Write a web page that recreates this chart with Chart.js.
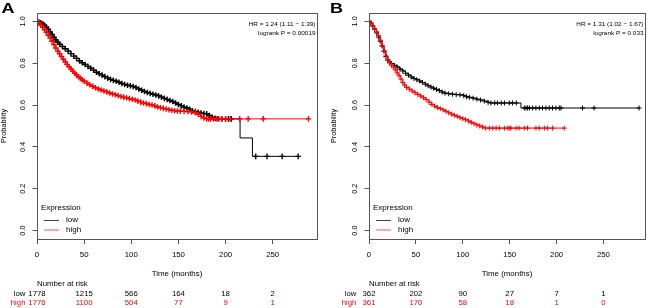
<!DOCTYPE html>
<html><head><meta charset="utf-8">
<script src="https://cdn.jsdelivr.net/npm/chart.js@4/dist/chart.umd.min.js"></script>
<style>
html,body{margin:0;padding:0;background:#fff;width:650px;height:308px;overflow:hidden}
canvas{position:absolute;top:0}
#cA{left:0}#cB{left:325px}
</style></head><body>
<canvas id="cA" width="325" height="308"></canvas>
<canvas id="cB" width="325" height="308"></canvas>
<script>
// ---- shared axis data ----
const xTicks = [0, 50, 100, 150, 200, 250];
const xTickLabels = ['0', '50', '100', '150', '200', '250'];
const yTicks = [0, 0.2, 0.4, 0.6, 0.8, 1.0];
const yTickLabels = ['0.0', '0.2', '0.4', '0.6', '0.8', '1.0'];
const groups = ['low', 'high'];

// ---- Panel A ----
const aLowT = [0,2,4,6,8,10,12,14,16,18,20,22,24,27,30,33,36,39,42,45,48,51,54,57,60,63,66,69,72,75,78,81,84,87,90,93,96,99,102,105,108,111,114,117,120,123,126,129,132,135,138,141,144,147,150,153,156,159,162,165,168,171,174,177,180,183,186,189,192,196,200,203,206];
const aLowS = [1.000,0.997,0.993,0.988,0.982,0.972,0.962,0.950,0.938,0.924,0.911,0.900,0.891,0.880,0.869,0.858,0.846,0.834,0.823,0.812,0.802,0.794,0.785,0.776,0.767,0.757,0.750,0.743,0.736,0.729,0.723,0.718,0.714,0.709,0.703,0.698,0.695,0.692,0.689,0.684,0.677,0.671,0.665,0.660,0.656,0.652,0.648,0.644,0.638,0.632,0.627,0.622,0.617,0.610,0.603,0.596,0.590,0.586,0.580,0.573,0.569,0.566,0.562,0.560,0.558,0.550,0.542,0.537,0.535,0.534,0.534,0.534,0.534];
const aLowDropT = [215.4, 228.5];
const aLowDropS = [0.443, 0.355];
const aLowCensT = [232, 244, 260, 277];
const aLowCensS = [0.355, 0.355, 0.355, 0.355];

const aHighT = [0,2,4,6,8,10,12,14,16,18,20,22,24,26,28,30,32,34,36,38,40,42,44,46,48,50,53,56,59,62,65,68,71,74,77,80,83,86,89,92,95,98,101,104,107,110,113,116,119,122,125,128,131,134,137,140,143,146,149,152,156,160,164,168,171,174,177,180];
const aHighS = [1.000,0.992,0.982,0.972,0.960,0.948,0.934,0.920,0.905,0.889,0.873,0.858,0.845,0.832,0.819,0.806,0.794,0.783,0.772,0.762,0.752,0.743,0.735,0.728,0.721,0.714,0.705,0.697,0.690,0.683,0.677,0.672,0.667,0.663,0.658,0.653,0.649,0.645,0.641,0.638,0.635,0.631,0.628,0.624,0.619,0.614,0.610,0.607,0.603,0.600,0.596,0.591,0.587,0.584,0.581,0.578,0.575,0.573,0.572,0.571,0.570,0.569,0.567,0.563,0.556,0.546,0.538,0.534];
const aHighDropT = [];
const aHighDropS = [];
const aHighCensT = [182,184,187,190,193,196,200,205,215,224,240,288];
const aHighCensS = [0.534,0.534,0.534,0.534,0.534,0.534,0.534,0.534,0.534,0.534,0.534,0.534];

const aRiskLow = [1778, 1215, 566, 164, 18, 2];
const aRiskHigh = [1776, 1100, 504, 77, 9, 1];
const aStats = ['HR = 1.24 (1.11 \u2212 1.39)', 'logrank P = 0.00019'];

// ---- Panel B ----
const bLowT = [0,2,4,6,8,10,12,14,16,18,20,22,24,27,30,33,36,39,42,45,48,51,54,57,60,63,66,69,72,75,78,81,85,89,93,97,101,104,107,111,115,119,123,127,130];
const bLowS = [1.000,0.992,0.978,0.962,0.945,0.925,0.905,0.882,0.858,0.832,0.815,0.806,0.798,0.790,0.782,0.772,0.763,0.752,0.743,0.734,0.727,0.721,0.715,0.708,0.700,0.692,0.686,0.680,0.675,0.669,0.662,0.657,0.654,0.652,0.650,0.649,0.645,0.640,0.637,0.633,0.628,0.624,0.619,0.613,0.610];
const bLowDropT = [162];
const bLowDropS = [0.586];
const bLowCensT = [134,137,141,144.5,149.6,153,157,165.6,167.4,169.1,171,174.5,178,181.6,185,188.7,192.2,195.7,199.3,202.9,204.7,227.7,240,288];
const bLowCensS = [0.610,0.610,0.610,0.610,0.610,0.610,0.610,0.586,0.586,0.586,0.586,0.586,0.586,0.586,0.586,0.586,0.586,0.586,0.586,0.586,0.586,0.586,0.586,0.586];

const bHighT = [0,2,4,6,8,10,12,14,16,18,20,22,24,26,28,30,32,34,36,38,40,43,46,49,52,55,58,61,64,67,70,73,76,79,82,85,88,91,94,97,100,103,106,109,112,115,118,121,124];
const bHighS = [1.000,0.992,0.978,0.965,0.950,0.932,0.910,0.884,0.858,0.835,0.816,0.801,0.791,0.781,0.768,0.754,0.740,0.724,0.708,0.695,0.685,0.676,0.667,0.659,0.651,0.643,0.635,0.626,0.614,0.603,0.595,0.588,0.583,0.577,0.570,0.563,0.557,0.551,0.546,0.540,0.535,0.530,0.524,0.517,0.511,0.505,0.500,0.495,0.490];
const bHighDropT = [];
const bHighDropS = [];
const bHighCensT = [128.4,132,135.5,139,144.4,148,150,151.5,156.8,160,165.6,169,178,181.6,187,190.4,195.7,208.2];
const bHighCensS = [0.490,0.490,0.490,0.490,0.490,0.490,0.490,0.490,0.490,0.490,0.490,0.490,0.490,0.490,0.490,0.490,0.490,0.490];

const bRiskLow = [362, 202, 90, 27, 7, 1];
const bRiskHigh = [361, 170, 58, 18, 1, 0];
const bStats = ['HR = 1.31 (1.02 \u2212 1.67)', 'logrank P = 0.033'];

// ---- drawing helpers ----
const FONT = '"Liberation Sans", Arial, Helvetica, sans-serif';
const COLORS = { low: '#000000', high: '#ff0000' };
const LEG_COLORS = { low: '#444444', high: '#ff5555' };
const HS = 1.1;

function pts(T, S) { return T.map((t, i) => ({ x: t, y: S[i] })); }

function txt(ctx, s, x, y, size, o) {
  o = o || {};
  ctx.save();
  ctx.font = (o.bold ? 'bold ' : '') + size + 'px ' + FONT;
  ctx.fillStyle = o.color || '#000';
  ctx.textAlign = o.align || 'left';
  ctx.textBaseline = 'middle';
  ctx.translate(x, y);
  if (o.rot) ctx.rotate(o.rot);
  else ctx.scale(o.hs || HS, 1);
  ctx.fillText(s, 0, 0);
  ctx.restore();
}

const panelPlugin = {
  id: 'panel',
  afterDraw(chart, args, o) {
    const ctx = chart.ctx, a = chart.chartArea, xs = chart.scales.x, ys = chart.scales.y;
    ctx.save();
    ctx.strokeStyle = '#555';
    ctx.lineWidth = 1;
    ctx.strokeRect(Math.round(a.left) + 0.5, Math.round(a.top) + 0.5,
      Math.round(a.right - a.left), Math.round(a.bottom - a.top));
    ctx.restore();
    yTicks.forEach((v, i) => {
      txt(ctx, yTickLabels[i], a.left - 14.2, ys.getPixelForValue(v), 7.3, { align: 'center', rot: -Math.PI / 2 });
    });
    xTicks.forEach((v, i) => {
      txt(ctx, xTickLabels[i], xs.getPixelForValue(v), 255, 7.1, { align: 'center' });
    });
    txt(ctx, 'Probability', o.ylabX, (a.top + a.bottom) / 2, 7.3, { align: 'center', rot: -Math.PI / 2 });
    txt(ctx, 'Time (months)', (a.left + a.right) / 2, 274.3, 7.2, { align: 'center' });
    txt(ctx, o.letter, o.letterX, 9.3, 15, { bold: true, hs: 1.2 });
    txt(ctx, o.stats[0], a.right - 1.5, 24, 6.1, { align: 'right', hs: 1.05 });
    txt(ctx, o.stats[1], a.right - 1.5, 33.5, 6.1, { align: 'right', hs: 1.05 });
    const lx = a.left;
    txt(ctx, 'Expression', lx + 4, 208.3, 7.3);
    groups.forEach((g, i) => {
      const ly = 220 + i * 9.5;
      ctx.save();
      ctx.strokeStyle = LEG_COLORS[g];
      ctx.lineWidth = 1;
      ctx.beginPath();
      ctx.moveTo(lx + 7, ly + 0.5);
      ctx.lineTo(lx + 22, ly + 0.5);
      ctx.stroke();
      ctx.restore();
      txt(ctx, g, lx + 29, ly, 7.3);
    });
    const x0 = xs.getPixelForValue(0);
    txt(ctx, 'Number at risk', x0, 284, 7.1);
    const rows = [o.riskLow, o.riskHigh];
    groups.forEach((g, r) => {
      const ry = 294 + r * 9.3;
      const col = COLORS[g];
      txt(ctx, g, x0 - o.grpOff, ry, 7.1, { align: 'right', color: col });
      xTicks.forEach((v, i) => {
        txt(ctx, String(rows[r][i]), xs.getPixelForValue(v), ry, 7.1, { align: 'center', color: col });
      });
    });
  }
};

function makePanel(id, p) {
  const series = [
    { g: 'low', T: p.lowT, S: p.lowS, dT: p.lowDropT, dS: p.lowDropS, cT: p.lowCensT, cS: p.lowCensS },
    { g: 'high', T: p.highT, S: p.highS, dT: p.highDropT, dS: p.highDropS, cT: p.highCensT, cS: p.highCensS }
  ];
  const datasets = [];
  series.slice().reverse().forEach(s => {
    const line = pts(s.T, s.S).concat(pts(s.dT, s.dS), pts(s.cT, s.cS)).sort((u, v) => u.x - v.x);
    const marks = pts(s.T, s.S).concat(pts(s.cT, s.cS));
    datasets.push({
      label: s.g, data: line, stepped: true, borderColor: COLORS[s.g], borderWidth: 1,
      pointRadius: 0, fill: false
    });
    datasets.push({
      label: s.g + ' censored', data: marks, showLine: false, pointStyle: 'cross',
      pointRadius: p.markR, pointBorderWidth: p.markW, borderColor: COLORS[s.g], backgroundColor: COLORS[s.g]
    });
  });
  return new Chart(document.getElementById(id), {
    type: 'line',
    data: { datasets },
    options: {
      responsive: false, animation: false, events: [], devicePixelRatio: 1,
      layout: { padding: { left: 0, right: p.padRight, top: 13, bottom: 0 } },
      plugins: { legend: { display: false }, tooltip: { enabled: false },
        panel: { letter: p.letter, letterX: p.letterX, stats: p.stats, riskLow: p.riskLow, riskHigh: p.riskHigh, ylabX: p.ylabX, grpOff: p.grpOff } },
      scales: {
        x: {
          type: 'linear', min: 0, max: p.xMax,
          afterBuildTicks: sc => { sc.ticks = xTicks.map(v => ({ value: v })); },
          afterFit: sc => { sc.height = 69; },
          ticks: { display: false, autoSkip: false },
          grid: { display: true, drawOnChartArea: false, drawTicks: true, tickLength: 5, color: '#555', lineWidth: 1 },
          border: { display: false }
        },
        y: {
          type: 'linear', min: -0.04, max: 1.04,
          afterBuildTicks: sc => { sc.ticks = yTicks.map(v => ({ value: v })); },
          afterFit: sc => { sc.width = p.yWidth; },
          ticks: { display: false },
          grid: { display: true, drawOnChartArea: false, drawTicks: true, tickLength: 4.5, color: '#555', lineWidth: 1 },
          border: { display: false }
        }
      }
    },
    plugins: [panelPlugin]
  });
}

makePanel('cA', {
  letter: 'A', letterX: 1.5, stats: aStats, riskLow: aRiskLow, riskHigh: aRiskHigh,
  ylabX: 3.8, grpOff: 11.5, yWidth: 37, padRight: 8, xMax: 297, markR: 2.8, markW: 1.4,
  lowT: aLowT, lowS: aLowS, lowDropT: aLowDropT, lowDropS: aLowDropS, lowCensT: aLowCensT, lowCensS: aLowCensS,
  highT: aHighT, highS: aHighS, highDropT: aHighDropT, highDropS: aHighDropS, highCensT: aHighCensT, highCensS: aHighCensS
});
makePanel('cB', {
  letter: 'B', letterX: 5, stats: bStats, riskLow: bRiskLow, riskHigh: bRiskHigh,
  ylabX: 9, grpOff: 12.6, yWidth: 44, padRight: 4, xMax: 294.3, markR: 2.5, markW: 1,
  lowT: bLowT, lowS: bLowS, lowDropT: bLowDropT, lowDropS: bLowDropS, lowCensT: bLowCensT, lowCensS: bLowCensS,
  highT: bHighT, highS: bHighS, highDropT: bHighDropT, highDropS: bHighDropS, highCensT: bHighCensT, highCensS: bHighCensS
});
</script>
</body></html>
